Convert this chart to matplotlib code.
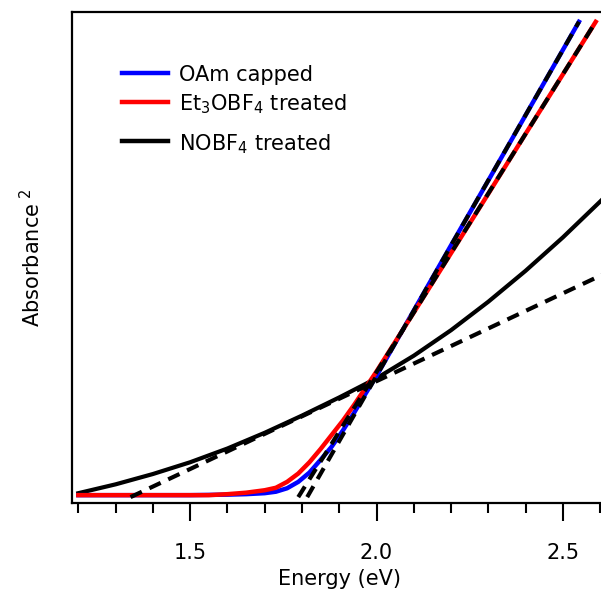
import matplotlib
matplotlib.use("Agg")
import matplotlib.pyplot as plt
from matplotlib.lines import Line2D

# Absorbance^2 (normalised) vs photon energy
oam_energy = [1.20, 1.30, 1.40, 1.50, 1.60, 1.65, 1.70, 1.73, 1.76, 1.79, 1.82,
              1.85, 1.88, 1.91, 1.94, 1.97, 2.00, 2.10, 2.20, 2.30, 2.40, 2.543]
oam_abs2 = [0.016, 0.016, 0.016, 0.016, 0.017, 0.018, 0.020, 0.023, 0.030, 0.043, 0.062,
            0.088, 0.115, 0.148, 0.184, 0.222, 0.259, 0.392, 0.525, 0.657, 0.790, 0.980]

et3_energy = [1.20, 1.30, 1.40, 1.50, 1.55, 1.60, 1.65, 1.70, 1.73, 1.76, 1.79,
              1.82, 1.85, 1.88, 1.91, 1.94, 1.97, 2.00, 2.10, 2.20, 2.30, 2.40,
              2.50, 2.588]
et3_abs2 = [0.016, 0.016, 0.016, 0.016, 0.016, 0.018, 0.021, 0.026, 0.031, 0.043, 0.060,
            0.083, 0.110, 0.139, 0.168, 0.200, 0.234, 0.268, 0.388, 0.509, 0.630, 0.752,
            0.873, 0.980]

no_energy = [1.20, 1.30, 1.40, 1.50, 1.60, 1.70, 1.80, 1.90, 2.00, 2.10, 2.20,
             2.30, 2.40, 2.50, 2.60, 2.62]
no_abs2 = [0.020, 0.038, 0.059, 0.083, 0.111, 0.143, 0.178, 0.215, 0.254, 0.300, 0.352,
           0.410, 0.473, 0.541, 0.614, 0.629]

# linear (Tauc-style) fits: two end points each
oam_fit_x = [1.814, 2.543]
oam_fit_y = [0.012, 0.980]
et3_fit_x = [1.790, 2.588]
et3_fit_y = [0.012, 0.980]
no_fit_x = [1.34, 2.62]
no_fit_y = [0.012, 0.470]

labels = ["OAm capped", "Et$_3$OBF$_4$ treated", "NOBF$_4$ treated"]
colors = ["#0000ff", "#ff0000", "black"]

plt.rcParams["font.family"] = "DejaVu Sans"
plt.rcParams["mathtext.fontset"] = "dejavusans"

fig = plt.figure(figsize=(6.01, 5.89), dpi=100)
# axes runs slightly past the right edge, as in the cropped original
ax = fig.add_axes([72 / 601, 86 / 589, 536 / 601, 491 / 589])

ax.plot(no_energy, no_abs2, color="black", lw=3, zorder=2)
ax.plot(oam_energy, oam_abs2, color=colors[0], lw=3.2, zorder=3)
ax.plot(et3_energy, et3_abs2, color=colors[1], lw=3.2, zorder=4)

dash = (3, 2)
for fx, fy in [(oam_fit_x, oam_fit_y), (et3_fit_x, et3_fit_y), (no_fit_x, no_fit_y)]:
    ax.plot(fx, fy, color="black", lw=3, linestyle=(0, dash), zorder=5)

ax.set_xlim(1.183, 2.621)
ax.set_ylim(0, 1)

ax.set_xticks([1.5, 2.0, 2.5])
ax.set_xticklabels(["1.5", "2.0", "2.5"])
ax.set_xticks([1.2, 1.3, 1.4, 1.6, 1.7, 1.8, 1.9, 2.1, 2.2, 2.3, 2.4, 2.6], minor=True)
ax.tick_params(axis="x", which="major", direction="out", length=13, width=1.5,
               labelsize=15, pad=16)
ax.tick_params(axis="x", which="minor", direction="out", length=7, width=1.5)
ax.set_yticks([])

for side in ["left", "top", "bottom", "right"]:
    ax.spines[side].set_linewidth(1.6)

ax.set_xlabel("Energy (eV)", fontsize=15, labelpad=4)
ax.set_ylabel(r"Absorbance$^{\ 2}$", fontsize=15, labelpad=20)

# hand-placed legend (rows are unevenly spaced in the original)
legend_y = [0.875, 0.817, 0.737]
for lab, col, ly in zip(labels, colors, legend_y):
    ax.add_line(Line2D([0.0933, 0.179], [ly, ly], transform=ax.transAxes,
                       color=col, lw=3.2))
    ax.text(0.1996, ly, lab, transform=ax.transAxes, fontsize=15,
            va="center_baseline", ha="left")

fig.savefig("out.png", dpi=100)
